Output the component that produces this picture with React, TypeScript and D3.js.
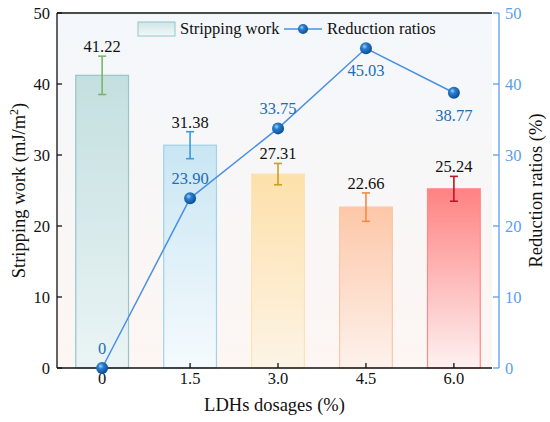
import React from "react";
import * as d3 from "d3";

const dosages = [0, 1.5, 3.0, 4.5, 6.0];
const dosageLabels = ["0", "1.5", "3.0", "4.5", "6.0"];
const strippingWork = [41.22, 31.38, 27.31, 22.66, 25.24];
const strippingError = [2.7, 1.9, 1.5, 2.0, 1.75];
const reductionRatios = [0, 23.9, 33.75, 45.03, 38.77];
const reductionLabels = ["0", "23.90", "33.75", "45.03", "38.77"];
const reductionLabelSide = ["above", "above", "above", "below", "below"];
const leftTicks = [0, 10, 20, 30, 40, 50];
const rightTicks = [0, 10, 20, 30, 40, 50];

const barTop = ["#c4dfdf", "#c9e6f3", "#fde0aa", "#fdc7a8", "#ff8282"];
const barBottom = ["#eaf4f5", "#f5fafd", "#fdf4e6", "#fdf2ec", "#fdf1f1"];
const barStroke = ["#94c6ca", "#9fd3e8", "#fde3b4", "#fcc6a6", "#ff8a8a"];
const errColor = ["#7cb46e", "#3b9bd9", "#c4a21e", "#f48a44", "#c21424"];

const W = 550;
const H = 422;
const font = '"Liberation Serif", "Times New Roman", serif';

export default function App() {
  const left = 57;
  const right = 492;
  const top = 13;
  const bottom = 368;
  const rightAxisX = 499;

  const x = d3.scaleLinear().domain([-0.77, 6.65]).range([left, right]);
  const y = d3.scaleLinear().domain([0, 50]).range([bottom, top]);
  const y2 = d3.scaleLinear().domain([0, 50]).range([bottom, top]);
  const bw = x(0.9) - x(0);

  const line = d3
    .line<number>()
    .x((_, i) => x(dosages[i]))
    .y((d) => y2(d));

  const blue = "#5b9df0";
  const lineColor = "#4a8fe6";
  const labelBlue = "#1e6db5";
  const txt = { fontFamily: font };
  const fs = 16.5;

  return (
    <svg
      width={W}
      height={H}
      viewBox={`0 0 ${W} ${H}`}
      style={{ position: "absolute", left: 0, top: 0, background: "#fff", fontFamily: font }}
    >
      <defs>
        <linearGradient id="bg" x1="0" y1="0" x2="0" y2="1">
          <stop offset="0%" stopColor="#f3f7fb" />
          <stop offset="100%" stopColor="#fdf6f3" />
        </linearGradient>
        {barTop.map((c, i) => (
          <linearGradient key={i} id={`bar${i}`} x1="0" y1="0" x2="0" y2="1">
            <stop offset="0%" stopColor={c} />
            <stop offset="100%" stopColor={barBottom[i]} />
          </linearGradient>
        ))}
        <linearGradient id="legendBar" x1="0" y1="0" x2="0" y2="1">
          <stop offset="0%" stopColor="#cfe6e6" />
          <stop offset="100%" stopColor="#f2f8f9" />
        </linearGradient>
        <radialGradient id="ball" cx="0.38" cy="0.35" r="0.65">
          <stop offset="0%" stopColor="#9fd0ff" />
          <stop offset="35%" stopColor="#2a7ccc" />
          <stop offset="100%" stopColor="#0b4f96" />
        </radialGradient>
      </defs>

      {/* plot background */}
      <rect x={left} y={top} width={right - left} height={bottom - top} fill="url(#bg)" />

      {/* bars */}
      {strippingWork.map((v, i) => (
        <rect
          key={`b-${i}`}
          x={x(dosages[i]) - bw / 2}
          y={y(v)}
          width={bw}
          height={bottom - y(v)}
          fill={`url(#bar${i})`}
          stroke={barStroke[i]}
          strokeWidth={1.2}
        />
      ))}

      {/* error bars */}
      {strippingWork.map((v, i) => {
        const cx = x(dosages[i]);
        const y1 = y(v + strippingError[i]);
        const y0 = y(v - strippingError[i]);
        return (
          <g key={`e-${i}`} stroke={errColor[i]} strokeWidth={1.6}>
            <line x1={cx} x2={cx} y1={y1} y2={y0} />
            <line x1={cx - 4} x2={cx + 4} y1={y1} y2={y1} />
            <line x1={cx - 4} x2={cx + 4} y1={y0} y2={y0} />
          </g>
        );
      })}

      {/* bar value labels */}
      {strippingWork.map((v, i) => (
        <text
          key={`bl-${i}`}
          x={x(dosages[i])}
          y={y(v + strippingError[i]) - 4}
          textAnchor="middle"
          fontSize={fs}
          fill="#111"
          style={txt}
        >
          {v.toFixed(2)}
        </text>
      ))}

      {/* frame */}
      <line x1={left} x2={right} y1={top} y2={top} stroke="#111" strokeWidth={1.3} />
      <line x1={left} x2={right} y1={bottom} y2={bottom} stroke="#111" strokeWidth={1.3} />
      <line x1={left} x2={left} y1={top} y2={bottom} stroke="#111" strokeWidth={1.3} />

      {/* left axis ticks */}
      {leftTicks.map((t) => (
        <g key={`lt-${t}`}>
          <line x1={left} x2={left + 5} y1={y(t)} y2={y(t)} stroke="#111" strokeWidth={1.3} />
          <text x={left - 7} y={y(t) + 5.5} textAnchor="end" fontSize={fs} fill="#111" style={txt}>
            {t}
          </text>
        </g>
      ))}

      {/* bottom axis ticks */}
      {dosages.map((d, i) => (
        <g key={`xt-${i}`}>
          <line x1={x(d)} x2={x(d)} y1={bottom} y2={bottom - 5} stroke="#111" strokeWidth={1.3} />
          <text x={x(d)} y={bottom + 16} textAnchor="middle" fontSize={fs} fill="#111" style={txt}>
            {dosageLabels[i]}
          </text>
        </g>
      ))}

      {/* right axis */}
      <line x1={rightAxisX} x2={rightAxisX} y1={top} y2={bottom} stroke={blue} strokeWidth={1.3} />
      {rightTicks.map((t) => (
        <g key={`rt-${t}`}>
          <line
            x1={rightAxisX}
            x2={rightAxisX - 6}
            y1={y2(t)}
            y2={y2(t)}
            stroke={blue}
            strokeWidth={1.3}
          />
          <text x={rightAxisX + 6} y={y2(t) + 5.5} fontSize={fs} fill={blue} style={txt}>
            {t}
          </text>
        </g>
      ))}

      {/* reduction ratio line */}
      <path d={line(reductionRatios) ?? ""} fill="none" stroke={lineColor} strokeWidth={1.5} />
      {reductionRatios.map((v, i) => (
        <circle key={`p-${i}`} cx={x(dosages[i])} cy={y2(v)} r={6} fill="url(#ball)" />
      ))}
      {reductionRatios.map((v, i) => (
        <text
          key={`pl-${i}`}
          x={x(dosages[i])}
          y={reductionLabelSide[i] === "above" ? y2(v) - 14 : y2(v) + 28}
          textAnchor="middle"
          fontSize={fs}
          fill={labelBlue}
          style={txt}
        >
          {reductionLabels[i]}
        </text>
      ))}

      {/* legend */}
      <rect x={138} y={22} width={37} height={14} fill="url(#legendBar)" stroke="#94c6ca" strokeWidth={1} />
      <text x={180} y={34} fontSize={fs} fill="#111" style={txt}>
        Stripping work
      </text>
      <line x1={284} x2={322} y1={29} y2={29} stroke={lineColor} strokeWidth={1.5} />
      <circle cx={303} cy={29} r={5} fill="url(#ball)" />
      <text x={327} y={34} fontSize={fs} fill="#111" style={txt}>
        Reduction ratios
      </text>

      {/* axis titles */}
      <text
        transform={`translate(25, ${(top + bottom) / 2}) rotate(-90)`}
        textAnchor="middle"
        fontSize={18.5}
        fill="#111"
        style={txt}
      >
        Stripping work (mJ/m
        <tspan baselineShift="super" fontSize={12}>
          2
        </tspan>
        )
      </text>
      <text
        transform={`translate(542, ${(top + bottom) / 2}) rotate(-90)`}
        textAnchor="middle"
        fontSize={18.5}
        fill="#111"
        style={txt}
      >
        Reduction ratios (%)
      </text>
      <text x={(left + right) / 2} y={411} textAnchor="middle" fontSize={18.5} fill="#111" style={txt}>
        LDHs dosages (%)
      </text>
    </svg>
  );
}
